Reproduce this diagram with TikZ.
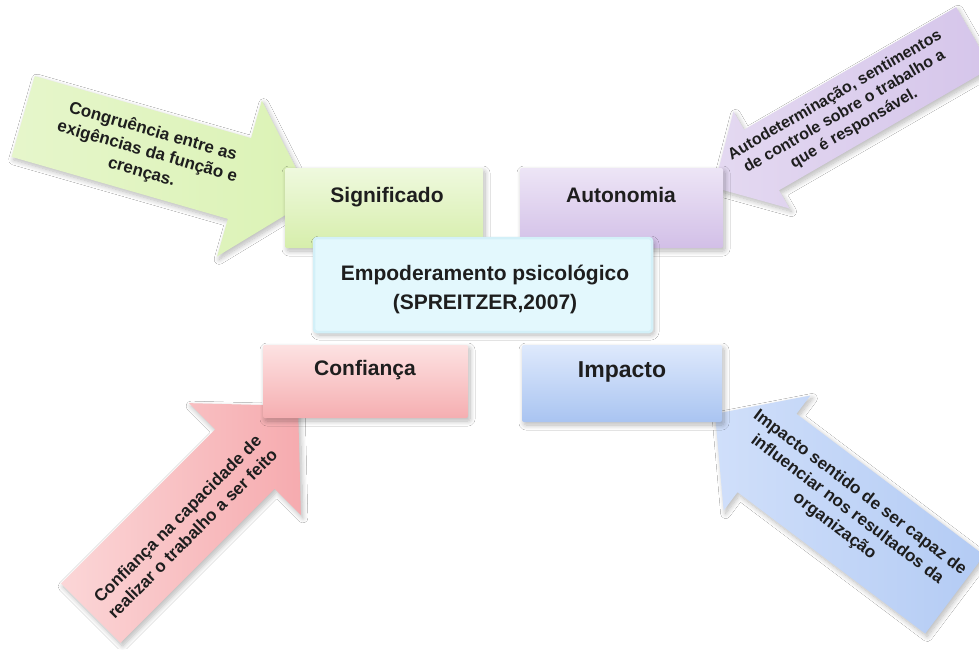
\documentclass[tikz,border=0pt]{standalone}
\usepackage{fontspec}
\setmainfont{Liberation Sans}
\usetikzlibrary{shadows.blur}

% palette
\definecolor{grArrA}{HTML}{E6F6CB}
\definecolor{grArrB}{HTML}{DBF2B5}
\definecolor{grBoxT}{HTML}{EFF9DE}
\definecolor{grBoxB}{HTML}{D6EEAB}
\definecolor{puArrA}{HTML}{E4D9F1}
\definecolor{puArrB}{HTML}{D5C5EA}
\definecolor{puBoxT}{HTML}{EDE5F6}
\definecolor{puBoxB}{HTML}{D2BFE7}
\definecolor{rdArrA}{HTML}{FBD6D7}
\definecolor{rdArrB}{HTML}{F6ABAF}
\definecolor{rdBoxT}{HTML}{FDE2E2}
\definecolor{rdBoxB}{HTML}{F5AEB1}
\definecolor{blArrA}{HTML}{D0DFFA}
\definecolor{blArrB}{HTML}{B3CBF4}
\definecolor{blBoxT}{HTML}{DEE9FC}
\definecolor{blBoxB}{HTML}{A9C4F1}
\definecolor{cyFill}{HTML}{E3F8FD}
\definecolor{cyEdge}{HTML}{D3F0F8}
\definecolor{ink}{HTML}{1E1E1E}

\tikzset{
  softshadow/.style={blur shadow={shadow xshift=2pt, shadow yshift=-3pt,
      shadow blur radius=5pt, shadow blur steps=10, shadow opacity=28}},
  arrowtext/.style={font=\bfseries\fontsize{17}{21}\selectfont, align=center,
      text=ink, inner sep=0pt},
  boxlabel/.style={font=\bfseries\fontsize{21}{25}\selectfont, text=ink,
      inner sep=0pt, anchor=base},
  dimbox/.style={rectangle, rounded corners=2pt, draw=none, softshadow,
      inner sep=0pt},
}

\begin{document}
\begin{tikzpicture}[x=1pt, y=-1pt]
\useasboundingbox (0,0) rectangle (979,649);
\fill[white] (0,0) rectangle (979,649);

% --- block arrows (origin of each scope = middle of the head base) ---
\begin{scope}[shift={(239.5,178.5)}, rotate=-16]
  \path[softshadow, left color=grArrA, right color=grArrB]
    (-225,-42) -- (0,-42) -- (0,-81) -- (75,0) -- (0,81) -- (0,42) -- (-225,42) -- cycle;
  \node[arrowtext, rotate=-16] (congr) at (-96,0)
    {Congruência entre as\\exigências da função e\\crenças.};
\end{scope}

\begin{scope}[shift={(761.5,160)}, rotate=210]
  \path[softshadow, left color=puArrA, right color=puArrB]
    (-245,-35) -- (0,-35) -- (0,-56) -- (55,0) -- (0,56) -- (0,35) -- (-245,35) -- cycle;
  \node[arrowtext, font=\bfseries\fontsize{16}{19}\selectfont, rotate=30] (autodet) at (-96,0)
    {Autodeterminação, sentimentos\\de controle sobre o trabalho a\\que é responsável.};
\end{scope}

\begin{scope}[shift={(245,459)}, rotate=45]
  \path[softshadow, left color=rdArrA, right color=rdArrB]
    (-218,-42) -- (0,-42) -- (0,-79) -- (75,0) -- (0,79) -- (0,42) -- (-218,42) -- cycle;
  \node[arrowtext, rotate=45] (confcap) at (-90,5)
    {Confiança na capacidade de\\realizar o trabalho a ser feito};
\end{scope}

\begin{scope}[shift={(767,453)}, rotate=143]
  \path[softshadow, left color=blArrA, right color=blArrB]
    (-235,-49) -- (0,-49) -- (0,-72) -- (65,0) -- (0,72) -- (0,49) -- (-235,49) -- cycle;
  \node[arrowtext, rotate=-37] (impsent) at (-98,3)
    {Impacto sentido de ser capaz de\\influenciar nos resultados da\\organização};
\end{scope}

% --- dimension boxes ---
\node[dimbox, top color=grBoxT, bottom color=grBoxB,
      minimum width=198pt, minimum height=80pt] (sigbox) at (384,208) {};
\node[dimbox, top color=puBoxT, bottom color=puBoxB,
      minimum width=203pt, minimum height=80pt] (autbox) at (621.5,208) {};
\node[dimbox, top color=rdBoxT, bottom color=rdBoxB,
      minimum width=205pt, minimum height=73pt] (confbox) at (365.5,381.5) {};
\node[dimbox, top color=blBoxT, bottom color=blBoxB,
      minimum width=200pt, minimum height=77pt] (impbox) at (622,383.5) {};

\node[boxlabel] (sig) at (387,202) {Significado};
\node[boxlabel] (aut) at (621,202.5) {Autonomia};
\node[boxlabel] (conf) at (365,375) {Confiança};
\node[boxlabel, font=\bfseries\fontsize{23}{27}\selectfont] (imp) at (622,377.5) {Impacto};

% --- central concept ---
\node[rectangle, rounded corners=3pt, fill=cyFill, draw=cyEdge, line width=2.5pt,
      softshadow, minimum width=338pt, minimum height=94pt] (centbox) at (483,285) {};
\node[font=\bfseries\fontsize{21}{29}\selectfont, align=center, text=ink, inner sep=0pt]
  (emp) at (485,289) {Empoderamento psicológico\\(SPREITZER,2007)};
\end{tikzpicture}
\end{document}
